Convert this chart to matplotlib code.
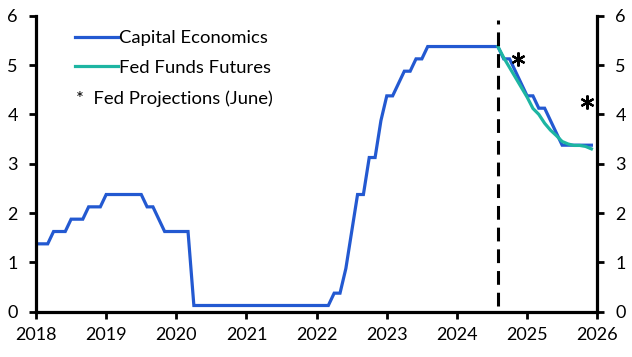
import numpy as np
import matplotlib
matplotlib.use("Agg")
import matplotlib.pyplot as plt
from matplotlib.lines import Line2D

plt.rcParams['font.family'] = ['Lato', 'DejaVu Sans']

# Capital Economics: fed funds target midpoint, monthly Jan 2018 - Dec 2025
ce_2018 = [1.375, 1.375, 1.375, 1.625, 1.625, 1.625, 1.875, 1.875, 1.875, 2.125, 2.125, 2.125]
ce_2019 = [2.375, 2.375, 2.375, 2.375, 2.375, 2.375, 2.375, 2.125, 2.125, 1.875, 1.625, 1.625]
ce_2020 = [1.625, 1.625, 1.625, 0.125, 0.125, 0.125, 0.125, 0.125, 0.125, 0.125, 0.125, 0.125]
ce_2021 = [0.125] * 12
ce_2022 = [0.125, 0.125, 0.125, 0.375, 0.375, 0.875, 1.625, 2.375, 2.375, 3.125, 3.125, 3.875]
ce_2023 = [4.375, 4.375, 4.625, 4.875, 4.875, 5.125, 5.125, 5.375, 5.375, 5.375, 5.375, 5.375]
ce_2024 = [5.375, 5.375, 5.375, 5.375, 5.375, 5.375, 5.375, 5.375, 5.125, 5.125, 4.875, 4.625]
ce_2025 = [4.375, 4.375, 4.125, 4.125, 3.875, 3.625, 3.375, 3.375, 3.375, 3.375, 3.375, 3.375]
capital_economics = ce_2018 + ce_2019 + ce_2020 + ce_2021 + ce_2022 + ce_2023 + ce_2024 + ce_2025

# Fed funds futures, Aug 2024 - Dec 2025
futures = [5.375, 5.15, 4.95, 4.75, 4.55, 4.35, 4.12, 4.0, 3.82, 3.68, 3.57,
           3.45, 3.40, 3.37, 3.37, 3.35, 3.30]

# Fed projections (June)
proj_x = [2024.87, 2025.86]
proj_y = [5.13, 4.25]

forecast_start = 2024 + 7 / 12

x_ce = 2018 + np.arange(len(capital_economics)) / 12
x_fut = forecast_start + np.arange(len(futures)) / 12

blue = '#2359d1'
teal = '#1db5a2'

fig = plt.figure(figsize=(6.32, 3.57), dpi=100)
ax = fig.add_axes([0.057, 0.127, 0.888, 0.829])

ax.plot(x_ce, capital_economics, color=blue, lw=2.3, solid_joinstyle='miter')
ax.plot(x_fut, futures, color=teal, lw=2.3)
ax.axvline(forecast_start, ymin=0.02, ymax=0.985, color='black', lw=2.2, dashes=(4.5, 2.6))
ax.plot(proj_x, proj_y, ls='none', marker=(6, 2, 0), ms=10, mew=1.6, color='black')

ax.set_xlim(2018, 2026)
ax.set_ylim(0, 6)
ax.set_xticks(range(2018, 2027))
ax.set_yticks(range(0, 7))

ax.spines['top'].set_visible(False)
for s in ['left', 'right', 'bottom']:
    ax.spines[s].set_linewidth(2.3)

ax.tick_params(axis='both', direction='out', length=5, width=2, labelsize=13, colors='black')
ax.tick_params(axis='y', right=True, labelright=True, pad=8)
ax.tick_params(axis='x', pad=6)

handles = [Line2D([], [], color=blue, lw=2.3), Line2D([], [], color=teal, lw=2.3)]
ax.legend(handles, ['Capital Economics', 'Fed Funds Futures'], frameon=False,
          loc='upper left', bbox_to_anchor=(0.04, 1.007), fontsize=13.3,
          handlelength=2.3, handletextpad=0.05, labelspacing=0.72)
fig.text(76 / 632, 1 - 99 / 357, '*  Fed Projections (June)', fontsize=13.3, va='center', ha='left')

fig.savefig('out.png', dpi=100)
